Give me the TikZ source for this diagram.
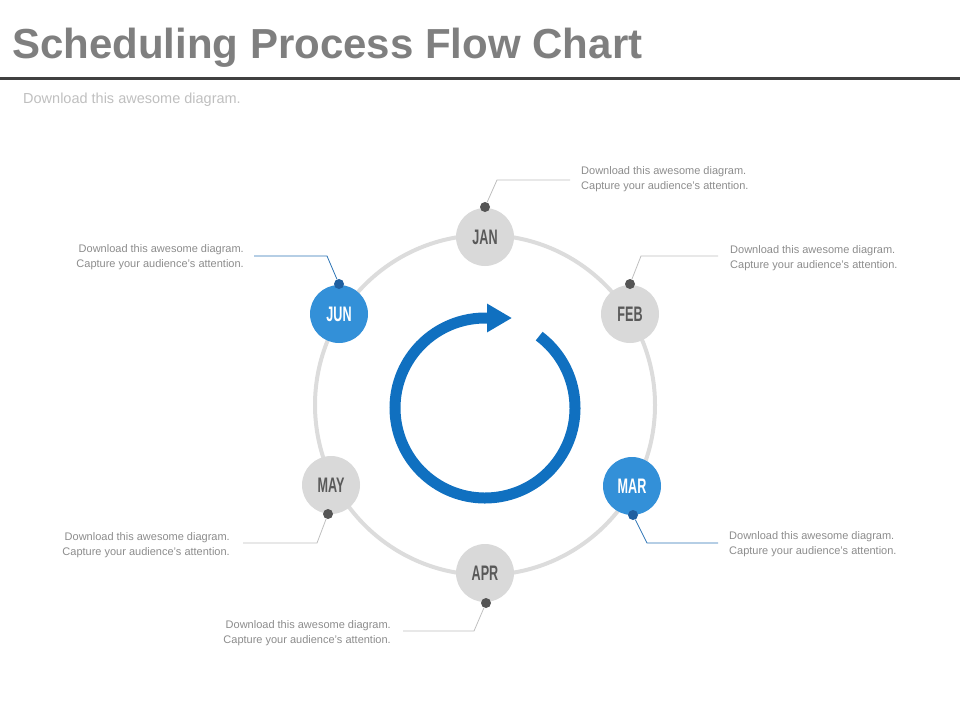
\documentclass[tikz,border=0pt]{standalone}
\usepackage{fontspec}
\setmainfont{Liberation Sans}
\newfontfamily\monthfont[FakeStretch=0.6]{Liberation Sans Bold}
\usetikzlibrary{arrows.meta}

\definecolor{titlegray}{HTML}{7F7F7F}
\definecolor{rulegray}{HTML}{404040}
\definecolor{subgray}{HTML}{BFBFBF}
\definecolor{monthgray}{HTML}{D9D9D9}
\definecolor{monthtext}{HTML}{595959}
\definecolor{monthblue}{HTML}{3390D8}
\definecolor{pingray}{HTML}{555555}
\definecolor{pinblue}{HTML}{1F5FA0}
\definecolor{ringgray}{HTML}{DCDCDC}
\definecolor{cycleblue}{HTML}{1070C0}
\definecolor{leadergray}{HTML}{BFBFBF}
\definecolor{leaderblue}{HTML}{2E75B6}
\definecolor{notegray}{HTML}{8C8C8C}

\begin{document}
\begin{tikzpicture}
    [
        x = 1pt, y = -1pt,
        month/.style = {circle, fill = monthgray, minimum size = 58pt, inner sep = 0pt,
            text = monthtext, font = \monthfont\fontsize{21}{21}\selectfont},
        hot/.style = {fill = monthblue, text = white},
        pin/.style = {circle, fill = pingray, minimum size = 10pt, inner sep = 0pt},
        hotpin/.style = {fill = pinblue},
        leader/.style = {draw = leadergray, line width = 0.8pt},
        hotleader/.style = {draw = leaderblue},
        note/.style = {text = notegray, inner sep = 0pt, font = \fontsize{11}{15}\selectfont}
    ]

        \useasboundingbox (0,0) rectangle (960,720);

        \node[anchor = base west, inner sep = 0pt, text = titlegray,
            font = \bfseries\fontsize{42}{42}\selectfont] (title) at (12,58)
            {Scheduling Process Flow Chart};
        \draw[rulegray, line width = 3pt] (0,78) -- (960,78);
        \node[anchor = base west, inner sep = 0pt, text = subgray,
            font = \fontsize{14.5}{16}\selectfont] (subtitle) at (23,103)
            {Download this awesome diagram.};

        \draw[ringgray, line width = 4pt] (485,405) circle (170);
        \draw[cycleblue, line width = 11pt, -{Triangle[width = 27pt, length = 25pt]}]
            (485,408) ++(-53:90) arc [start angle = -53, end angle = 270, radius = 90]
            -- ++(27,0);

        \node[month] (jan) at (485,237) {JAN};
        \node[month] (feb) at (630,314) {FEB};
        \node[month, hot] (mar) at (632,486) {MAR};
        \node[month] (apr) at (485,573) {APR};
        \node[month] (may) at (331,485) {MAY};
        \node[month, hot] (jun) at (339,314) {JUN};

        \node[pin] (jan pin) at (485,207) {};
        \node[pin] (feb pin) at (630,284) {};
        \node[pin, hotpin] (mar pin) at (633,515) {};
        \node[pin] (apr pin) at (486,603) {};
        \node[pin] (may pin) at (328,514) {};
        \node[pin, hotpin] (jun pin) at (339,284) {};

        \node[note, anchor = west, align = left] (jan note) at (581,179)
            {Download this awesome diagram.\\Capture your audience's attention.};
        \node[note, anchor = west, align = left] (feb note) at (730,258)
            {Download this awesome diagram.\\Capture your audience's attention.};
        \node[note, anchor = west, align = left] (mar note) at (729,544)
            {Download this awesome diagram.\\Capture your audience's attention.};
        \node[note, anchor = east, align = right] (apr note) at (391,633)
            {Download this awesome diagram.\\Capture your audience's attention.};
        \node[note, anchor = east, align = right] (may note) at (230,545)
            {Download this awesome diagram.\\Capture your audience's attention.};
        \node[note, anchor = east, align = right] (jun note) at (244,257)
            {Download this awesome diagram.\\Capture your audience's attention.};

        \coordinate (jan bend) at (497,180);
        \coordinate (jan end) at (570,180);
        \coordinate (feb bend) at (641,256);
        \coordinate (feb end) at (718,256);
        \coordinate (mar bend) at (647,543);
        \coordinate (mar end) at (718,543);
        \coordinate (apr bend) at (474,631);
        \coordinate (apr end) at (403,631);
        \coordinate (may bend) at (317,543);
        \coordinate (may end) at (243,543);
        \coordinate (jun bend) at (327,256);
        \coordinate (jun end) at (254,256);

        \draw[leader] (jan pin) -- (jan bend) -- (jan end);
        \draw[leader] (feb pin) -- (feb bend) -- (feb end);
        \draw[leader, hotleader] (mar pin) -- (mar bend) -- (mar end);
        \draw[leader] (apr pin) -- (apr bend) -- (apr end);
        \draw[leader] (may pin) -- (may bend) -- (may end);
        \draw[leader, hotleader] (jun pin) -- (jun bend) -- (jun end);
    \end{tikzpicture}
\end{document}
